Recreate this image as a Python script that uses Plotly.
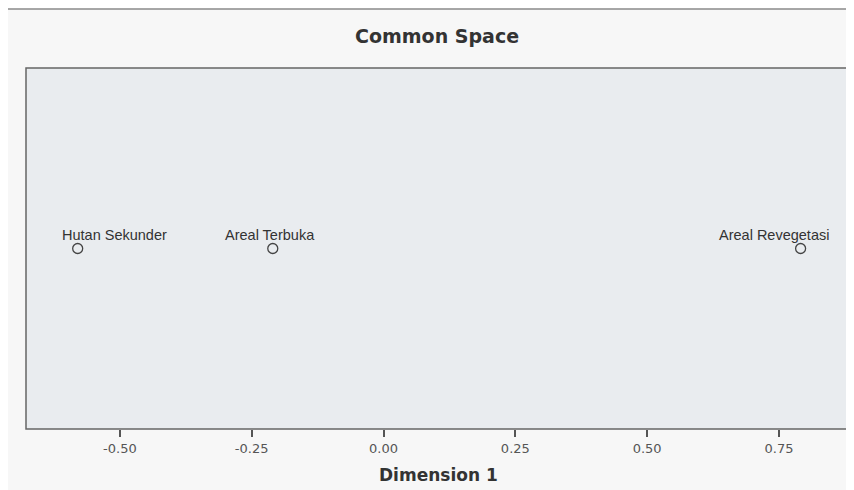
import plotly.graph_objects as go

# Data
labels = ["Hutan Sekunder", "Areal Terbuka", "Areal Revegetasi"]
dimension1 = [-0.580, -0.210, 0.791]
row_level = [0, 0, 0]
tick_vals = [-0.50, -0.25, 0.00, 0.25, 0.50, 0.75]
tick_text = ["-0.50", "-0.25", "0.00", "0.25", "0.50", "0.75"]

fig = go.Figure()

fig.add_trace(go.Scatter(
    x=dimension1, y=row_level, mode="markers",
    marker=dict(symbol="circle-open", size=10, color="#444444", line=dict(width=1.3)),
    hoverinfo="text", text=labels, showlegend=False,
))

label_shifts = [37, -3, -27]
for lab, xv, yv, sh in zip(labels, dimension1, row_level, label_shifts):
    fig.add_annotation(x=xv, y=yv, text=lab, showarrow=False,
                       xshift=sh, yshift=14, xanchor="center", yanchor="middle",
                       font=dict(family="Liberation Sans, Arial", size=14.5, color="#333333"))

# outer panel frame
fig.add_shape(type="rect", xref="paper", yref="paper",
              x0=-0.0231, x1=1.05, y0=-0.3, y1=1.1634,
              fillcolor="#f7f7f7", line=dict(color="#8a8a8a", width=1.5), layer="below")
# plot area
fig.add_shape(type="rect", xref="paper", yref="paper",
              x0=0, x1=1, y0=0, y1=1,
              fillcolor="#e9ecef", line=dict(color="#666666", width=1.5), layer="below")

fig.add_annotation(xref="paper", yref="paper", x=0.5006, y=1.0886, text="<b>Common Space</b>",
                   showarrow=False, xanchor="center", yanchor="middle",
                   font=dict(family="DejaVu Sans", size=19, color="#333333"))
fig.add_annotation(xref="paper", yref="paper", x=0.502, y=-0.1274, text="<b>Dimension 1</b>",
                   showarrow=False, xanchor="center", yanchor="middle",
                   font=dict(family="DejaVu Sans", size=17, color="#333333"))

fig.update_xaxes(range=[-0.678, 0.879], tickvals=tick_vals, ticktext=tick_text,
                 ticks="outside", ticklen=7, tickwidth=1.5, tickcolor="#555555",
                 showgrid=False, zeroline=False, showline=False,
                 tickfont=dict(family="DejaVu Sans", size=13, color="#555555"))
fig.update_yaxes(range=[-1, 1], visible=False, showgrid=False, zeroline=False)

fig.update_layout(width=846, height=482,
                  margin=dict(l=18, r=7, t=60, b=61),
                  paper_bgcolor="white", plot_bgcolor="rgba(0,0,0,0)")

fig.write_html("out.html")
